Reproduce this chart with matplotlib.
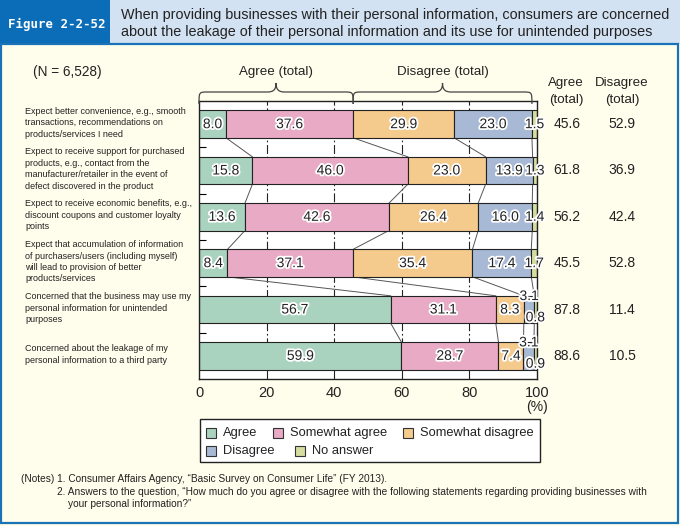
import matplotlib
matplotlib.use("Agg")
import matplotlib.pyplot as plt
from matplotlib import font_manager
from matplotlib.patches import Rectangle, PathPatch
from matplotlib.path import Path
import matplotlib.transforms as mtransforms
import matplotlib.patheffects as pe

# ---------------- data ----------------
categories = [
    "Expect better convenience, e.g., smooth\ntransactions, recommendations on\nproducts/services I need",
    "Expect to receive support for purchased\nproducts, e.g., contact from the\nmanufacturer/retailer in the event of\ndefect discovered in the product",
    "Expect to receive economic benefits, e.g.,\ndiscount coupons and customer loyalty\npoints",
    "Expect that accumulation of information\nof purchasers/users (including myself)\nwill lead to provision of better\nproducts/services",
    "Concerned that the business may use my\npersonal information for unintended\npurposes",
    "Concerned about the leakage of my\npersonal information to a third party",
]
series_names = ["Agree", "Somewhat agree", "Somewhat disagree", "Disagree", "No answer"]
agree = [8.0, 15.8, 13.6, 8.4, 56.7, 59.9]
somewhat_agree = [37.6, 46.0, 42.6, 37.1, 31.1, 28.7]
somewhat_disagree = [29.9, 23.0, 26.4, 35.4, 8.3, 7.4]
disagree = [23.0, 13.9, 16.0, 17.4, 3.1, 3.1]
no_answer = [1.5, 1.3, 1.4, 1.7, 0.8, 0.9]
agree_total = [45.6, 61.8, 56.2, 45.5, 87.8, 88.6]
disagree_total = [52.9, 36.9, 42.4, 52.8, 11.4, 10.5]
xticks = [0, 20, 40, 60, 80, 100]
colors = ["#a9d3bf", "#e8aac5", "#f4ca8d", "#a7b9d5", "#d5dd9f"]

series = [agree, somewhat_agree, somewhat_disagree, disagree, no_answer]

# ---------------- fonts ----------------
available = {f.name for f in font_manager.fontManager.ttflist}
MAIN = "Liberation Sans" if "Liberation Sans" in available else "DejaVu Sans"
NARROW = "Liberation Sans Narrow" if "Liberation Sans Narrow" in available else None
plt.rcParams["font.family"] = [MAIN, "DejaVu Sans"]

W, H = 680, 526
fig = plt.figure(figsize=(W / 100, H / 100), dpi=100)
CREAM = "#fffdeb"
fig.patch.set_facecolor(CREAM)


def fx(x):
    return x / W


def fy(y):
    return 1 - y / H


# title band
fig.add_artist(Rectangle((0, fy(44)), 1, 44 / H, transform=fig.transFigure,
                         facecolor="#d3e2f2", edgecolor="none"))
fig.add_artist(Rectangle((0, fy(44)), fx(110), 44 / H, transform=fig.transFigure,
                         facecolor="#0b6db7", edgecolor="none"))
fig.add_artist(Rectangle((fx(1), fy(523)), fx(677), (523 - 44) / H, transform=fig.transFigure,
                         facecolor="none", edgecolor="#1a72b9", lw=1.6))
fig.text(fx(57), fy(24), "Figure 2-2-52", color="white", fontsize=8.9,
         fontweight="bold", family="DejaVu Sans Mono", ha="center", va="center")
fig.text(fx(121), fy(15), "When providing businesses with their personal information, consumers are concerned",
         fontsize=10.4, color="#222222", ha="left", va="center")
fig.text(fx(121), fy(32), "about the leakage of their personal information and its use for unintended purposes",
         fontsize=10.4, color="#222222", ha="left", va="center")

fig.text(fx(33), fy(72), "(N = 6,528)", fontsize=9.8, color="#222222", ha="left", va="center")

# ---------------- axes ----------------
ax = fig.add_axes([fx(199), fy(379), 338 / W, 278 / H])
ax.set_facecolor("white")
rows = list(range(len(categories)))
bar_h = 0.59

cum = [0.0] * len(rows)
edges = []
for vals, col in zip(series, colors):
    ax.barh(rows, vals, left=cum, height=bar_h, color=col, edgecolor="#222222",
            linewidth=0.8, zorder=2)
    cum = [c + v for c, v in zip(cum, vals)]
    edges.append(cum[:])

ax.set_xlim(0, 100)
ax.set_ylim(len(rows) - 0.5, -0.5)
ax.set_xticks(xticks)
ax.set_xticklabels([str(t) for t in xticks], fontsize=10.5, color="#222222")
ax.tick_params(axis="x", length=0, pad=5)
ax.set_yticks([r + 0.5 for r in rows[:-1]])
ax.set_yticklabels([])
ax.tick_params(axis="y", direction="in", length=5, width=0.8, left=True, right=False)
for sp in ax.spines.values():
    sp.set_color("#222222")
    sp.set_linewidth(1.0)
for t in xticks[1:-1]:
    ax.axvline(t, color="#222222", lw=0.8, linestyle=(0, (8, 2.5, 1.5, 2.5)), zorder=0)

# connector lines
for i in rows[:-1]:
    for k in range(len(series) - 1):
        ax.plot([edges[k][i], edges[k][i + 1]], [i + bar_h / 2, i + 1 - bar_h / 2],
                color="#555555", lw=0.7, zorder=1)

# value labels
stroke = [pe.withStroke(linewidth=2.6, foreground="white")]
for k, vals in enumerate(series):
    for i in rows:
        left = edges[k][i] - vals[i]
        cx = left + vals[i] / 2
        y = i
        if vals[i] < 1.0:
            cx = edges[k][i] - 0.5
            y = i + 0.17
        elif vals[i] < 4 and k == 3:
            y = i - 0.29
        ax.text(cx, y, f"{vals[i]:.1f}", ha="center", va="center", fontsize=10,
                color="#222222", path_effects=stroke, zorder=5, clip_on=False)

# category labels
blend = mtransforms.blended_transform_factory(fig.transFigure, ax.transData)
for i, lab in enumerate(categories):
    if NARROW:
        ax.text(fx(25), i - 0.03, lab, transform=blend, ha="left", va="center", fontsize=7.9,
                family=NARROW, linespacing=1.17, color="#222222")
    else:
        ax.text(fx(25), i - 0.03, lab, transform=blend, ha="left", va="center", fontsize=6.5,
                linespacing=1.35, color="#222222")

# right-side totals
blend2 = mtransforms.blended_transform_factory(fig.transFigure, ax.transData)
for i in rows:
    ax.text(fx(567), i, f"{agree_total[i]:.1f}", transform=blend2, ha="center", va="center",
            fontsize=10, color="#222222")
    ax.text(fx(622), i, f"{disagree_total[i]:.1f}", transform=blend2, ha="center", va="center",
            fontsize=10, color="#222222")
fig.text(fx(566), fy(83), "Agree", ha="center", va="center", fontsize=9.6, color="#222222")
fig.text(fx(566), fy(100), "(total)", ha="center", va="center", fontsize=9.6, color="#222222")
fig.text(fx(622), fy(83), "Disagree", ha="center", va="center", fontsize=9.6, color="#222222")
fig.text(fx(622), fy(100), "(total)", ha="center", va="center", fontsize=9.6, color="#222222")

ax.text(100, fy(407), "(%)", transform=mtransforms.blended_transform_factory(ax.transData, fig.transFigure),
        ha="center", va="center", fontsize=10, color="#222222")

# braces
bt = mtransforms.blended_transform_factory(ax.transData, ax.transAxes)


def brace(x0, x1):
    yb, ym, yt = (379 - 104) / 278, (379 - 92) / 278, (379 - 83) / 278
    r = 2.6
    xm = (x0 + x1) / 2
    verts = [
        (x0, yb),
        (x0, ym), (x0, ym), (x0 + r, ym),
        (xm - r, ym),
        (xm - 0.3 * r, ym), (xm, ym + 0.25 * (yt - ym)), (xm, yt),
        (xm, ym + 0.25 * (yt - ym)), (xm + 0.3 * r, ym), (xm + r, ym),
        (x1 - r, ym),
        (x1, ym), (x1, ym), (x1, yb),
    ]
    codes = [Path.MOVETO, Path.CURVE4, Path.CURVE4, Path.CURVE4, Path.LINETO,
             Path.CURVE4, Path.CURVE4, Path.CURVE4, Path.CURVE4, Path.CURVE4, Path.CURVE4,
             Path.LINETO, Path.CURVE4, Path.CURVE4, Path.CURVE4]
    p = PathPatch(Path(verts, codes), transform=bt, facecolor="none", edgecolor="#444444",
                  lw=0.9, clip_on=False, zorder=6)
    ax.add_patch(p)
    return xm


ytxt = (379 - 72) / 278
xa = brace(0, agree_total[0])
xd = brace(agree_total[0], 100 - no_answer[0])
ax.text(xa, ytxt, "Agree (total)", transform=bt, ha="center", va="center", fontsize=9.6, color="#222222")
ax.text(xd, ytxt, "Disagree (total)", transform=bt, ha="center", va="center", fontsize=9.6, color="#222222")

# ---------------- legend (flow layout) ----------------
fig.add_artist(Rectangle((fx(200), fy(462)), 340 / W, 43 / H, transform=fig.transFigure,
                         facecolor="white", edgecolor="#222222", lw=1.0))
legend_rows = [[(206, 0), (273, 1), (403, 2)], [(206, 3), (295, 4)]]
for yc, items in zip([433, 451], legend_rows):
    for xp, k in items:
        fig.add_artist(Rectangle((fx(xp), fy(yc + 5)), 10 / W, 10 / H, transform=fig.transFigure,
                                 facecolor=colors[k], edgecolor="#333333", lw=0.8))
        fig.text(fx(xp + 17), fy(yc), series_names[k], ha="left", va="center",
                 fontsize=9.3, color="#222222")

# ---------------- notes ----------------
notes_kw = dict(fontsize=8.6, family=NARROW) if NARROW else dict(fontsize=7.3)
fig.text(fx(21), fy(479), "(Notes) 1. Consumer Affairs Agency, \u201cBasic Survey on Consumer Life\u201d (FY 2013).",
         ha="left", va="center", color="#222222", **notes_kw)
fig.text(fx(57), fy(492), "2. Answers to the question, \u201cHow much do you agree or disagree with the following statements regarding providing businesses with",
         ha="left", va="center", color="#222222", **notes_kw)
fig.text(fx(68), fy(504), "your personal information?\u201d",
         ha="left", va="center", color="#222222", **notes_kw)

fig.savefig("out.png", dpi=100, facecolor=CREAM)
